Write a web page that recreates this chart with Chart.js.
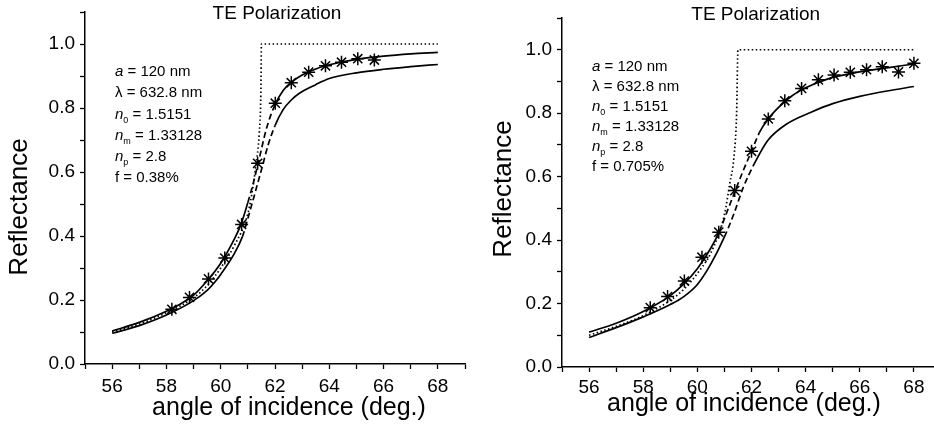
<!DOCTYPE html>
<html><head><meta charset="utf-8">
<script src="https://cdn.jsdelivr.net/npm/chart.js@4.4.0/dist/chart.umd.min.js"></script>
<style>
html,body{margin:0;padding:0;background:#fff;}
#wrap{position:relative;width:934px;height:437px;overflow:hidden;background:#fff;}
.box{position:absolute;top:0;height:437px;}
</style></head><body>
<div id="wrap">
<div class="box" style="left:0;width:467px"><canvas id="c1" width="467" height="437"></canvas></div>
<div class="box" style="left:467px;width:474px"><canvas id="c2" width="474" height="437"></canvas></div>
</div>
<script>
// ---------- DATA ----------
const xTickValues = [56, 58, 60, 62, 64, 66, 68];
const yTickValues = [0.0, 0.2, 0.4, 0.6, 0.8, 1.0];
const chartTitle = "TE Polarization";
const xTitle = "angle of incidence (deg.)";
const yTitle = "Reflectance";

// Left panel (f = 0.38%)
const L_starX = [58.2, 58.85, 59.55, 60.15, 60.77, 61.36, 62.01, 62.6, 63.24, 63.86, 64.45, 65.05, 65.66];
const L_starY = [0.171, 0.208, 0.266, 0.331, 0.436, 0.627, 0.815, 0.879, 0.912, 0.932, 0.943, 0.954, 0.950];
const L_upperX = [56, 57, 58, 58.5, 59, 59.5, 60, 60.5, 60.75, 61, 61.2, 61.4, 61.7, 62, 62.3, 62.6, 63, 63.5, 64, 65, 66, 67, 68];
const L_upperY = [0.103, 0.13, 0.165, 0.187, 0.215, 0.26, 0.315, 0.39, 0.437, 0.505, 0.565, 0.635, 0.74, 0.81, 0.855, 0.88, 0.903, 0.922, 0.935, 0.952, 0.962, 0.969, 0.974];
const L_lowerX = [56, 57, 58, 59, 59.5, 59.8, 60, 60.5, 60.8, 61, 61.2, 61.5, 61.75, 62, 62.3, 62.6, 62.9, 63.5, 64, 65, 66, 67, 68];
const L_lowerY = [0.096, 0.12, 0.153, 0.198, 0.23, 0.258, 0.28, 0.345, 0.398, 0.455, 0.515, 0.607, 0.685, 0.745, 0.795, 0.825, 0.846, 0.873, 0.892, 0.91, 0.921, 0.929, 0.936];
const L_bareX = [56, 57, 58, 59, 59.5, 60, 60.5, 61, 61.2, 61.3, 61.42, 61.48, 61.5, 68];
const L_bareY = [0.10, 0.125, 0.16, 0.207, 0.245, 0.30, 0.37, 0.47, 0.56, 0.625, 0.72, 0.85, 1.0, 1.0];
const L_params = ["120 nm", "632.8 nm", "1.5151", "1.33128", "2.8", "0.38%"];

// Right panel (f = 0.705%)
const R_starX = [58.26, 58.9, 59.52, 60.17, 60.79, 61.38, 62.0, 62.62, 63.23, 63.85, 64.47, 65.05, 65.65, 66.25, 66.83, 67.43, 68.0];
const R_starY = [0.187, 0.222, 0.271, 0.346, 0.425, 0.556, 0.680, 0.782, 0.839, 0.878, 0.905, 0.920, 0.929, 0.937, 0.946, 0.930, 0.957];
const R_upperX = [56, 57, 58, 59, 59.5, 60, 60.5, 60.8, 61.1, 61.4, 61.7, 62, 62.3, 62.6, 63, 63.5, 64, 64.5, 65, 66, 67, 68];
const R_upperY = [0.11, 0.138, 0.175, 0.225, 0.262, 0.31, 0.375, 0.425, 0.49, 0.556, 0.62, 0.68, 0.74, 0.78, 0.818, 0.855, 0.88, 0.898, 0.913, 0.93, 0.943, 0.955];
const R_lowerX = [56, 57, 58, 59, 59.5, 60, 60.5, 61, 61.35, 61.7, 62.1, 62.6, 63.3, 64.2, 65, 66, 67, 68];
const R_lowerY = [0.093, 0.124, 0.158, 0.197, 0.222, 0.26, 0.325, 0.41, 0.483, 0.567, 0.64, 0.714, 0.766, 0.803, 0.83, 0.853, 0.87, 0.884];
const R_bareX = [56, 57, 58, 59, 59.5, 59.75, 60, 60.5, 61, 61.2, 61.35, 61.45, 61.5, 68];
const R_bareY = [0.10, 0.128, 0.162, 0.21, 0.245, 0.268, 0.295, 0.36, 0.48, 0.58, 0.66, 0.8, 1.0, 1.0];
const R_params = ["120 nm", "632.8 nm", "1.5151", "1.33128", "2.8", "0.705%"];

// ---------- helpers ----------
const FONT = "'Liberation Sans', Arial, sans-serif";
const pts = (xs, ys) => xs.map((x, i) => ({x: x, y: ys[i]}));

function dashRange(lo, hi) {
  return ctx => (ctx.p0.parsed.x >= lo - 1e-9 && ctx.p1.parsed.x <= hi + 1e-9) ? [6, 3.5] : undefined;
}

function makeChart(id, cfg) {
  const annot = {
    id: 'annot',
    afterDraw(chart) {
      const c = chart.ctx;
      c.save();
      c.fillStyle = '#000';
      c.textBaseline = 'middle';
      c.textAlign = 'center';
      c.font = '19px ' + FONT;
      c.fillText(chartTitle, cfg.titleX, cfg.titleY);
      c.font = '25px ' + FONT;
      c.fillText(xTitle, cfg.xTitleX, cfg.xTitleY);
      c.save();
      c.translate(cfg.yTitleX, cfg.yTitleY);
      c.rotate(-Math.PI / 2);
      c.font = '26px ' + FONT;
      c.fillText(yTitle, 0, 0);
      c.restore();
      c.textAlign = 'left';
      const p = cfg.params;
      const lines = [
        [['i', 'a'], ['r', ' = ' + p[0]]],
        [['r', '\u03bb = ' + p[1]]],
        [['i', 'n'], ['s', '0'], ['r', ' = ' + p[2]]],
        [['i', 'n'], ['s', 'm'], ['r', ' = ' + p[3]]],
        [['i', 'n'], ['s', 'p'], ['r', ' = ' + p[4]]],
        [['r', 'f = ' + p[5]]]
      ];
      lines.forEach((ln, i) => {
        let x = cfg.annX;
        const y = cfg.annY + i * cfg.annDy;
        ln.forEach(([k, t]) => {
          let yy = y;
          if (k === 'i') c.font = 'italic 15px ' + FONT;
          else if (k === 's') { c.font = '9px ' + FONT; yy = y + 6; }
          else c.font = '15px ' + FONT;
          c.fillText(t, x, yy);
          x += c.measureText(t).width;
        });
      });
      c.restore();
    }
  };
  const noPad = s => { s.paddingLeft = 0; s.paddingRight = 0; s.paddingTop = 0; s.paddingBottom = 0; };
  return new Chart(document.getElementById(id), {
    type: 'scatter',
    data: {
      datasets: [
        {data: pts(cfg.bareX, cfg.bareY), showLine: true, pointRadius: 0, borderColor: '#000',
         borderWidth: 1.7, borderDash: [1.5, 2.5], cubicInterpolationMode: 'monotone'},
        {data: pts(cfg.lowerX, cfg.lowerY), showLine: true, pointRadius: 0, borderColor: '#000',
         borderWidth: 1.7, cubicInterpolationMode: 'monotone', segment: {borderDash: dashRange(cfg.lowDash[0], cfg.lowDash[1])}},
        {data: pts(cfg.upperX, cfg.upperY), showLine: true, pointRadius: 0, borderColor: '#000',
         borderWidth: 1.7, cubicInterpolationMode: 'monotone', segment: {borderDash: dashRange(cfg.upDash[0], cfg.upDash[1])}},
        {data: pts(cfg.starX, cfg.starY), showLine: false, pointStyle: 'star', pointRadius: 6.5,
         borderColor: '#000', backgroundColor: '#000', borderWidth: 1.5}
      ]
    },
    options: {
      responsive: false, animation: false,
      layout: {autoPadding: false, padding: {left: 0, right: cfg.padRight, top: cfg.padTop, bottom: 0}},
      plugins: {legend: {display: false}, tooltip: {enabled: false}, title: {display: false}},
      scales: {
        x: {
          type: 'linear', min: 55, max: 69,
          border: {color: '#000', width: 1.5},
          grid: {drawOnChartArea: false, drawTicks: true, tickLength: 5, color: '#000', tickWidth: 1.3},
          ticks: {stepSize: 1, autoSkip: false, maxRotation: 0, padding: cfg.xPad, color: '#000',
                  font: {family: FONT, size: 19},
                  callback: v => xTickValues.includes(v) ? String(v) : ''},
          afterFit: s => { s.height = cfg.xAxisH; noPad(s); }
        },
        y: {
          type: 'linear', min: 0, max: 1.1,
          border: {color: '#000', width: 1.5},
          grid: {drawOnChartArea: false, drawTicks: true, tickLength: 5, color: '#000', tickWidth: 1.3},
          ticks: {stepSize: 0.1, autoSkip: false, padding: 5, color: '#000',
                  font: {family: FONT, size: 19},
                  callback: v => yTickValues.some(t => Math.abs(t - v) < 1e-6) ? v.toFixed(1) : ''},
          afterFit: s => { s.width = cfg.yAxisW; noPad(s); }
        }
      }
    },
    plugins: [annot]
  });
}

makeChart('c1', {
  bareX: L_bareX, bareY: L_bareY, lowerX: L_lowerX, lowerY: L_lowerY, upperX: L_upperX, upperY: L_upperY,
  starX: L_starX, starY: L_starY, params: L_params,
  upDash: [61, 62], lowDash: [60.8, 62],
  padRight: 2, padTop: 12, xAxisH: 73, yAxisW: 85, xPad: 6,
  titleX: 277, titleY: 14, xTitleX: 289, xTitleY: 408, yTitleX: 20, yTitleY: 207,
  annX: 115, annY: 72, annDy: 21.2
});
makeChart('c2', {
  bareX: R_bareX, bareY: R_bareY, lowerX: R_lowerX, lowerY: R_lowerY, upperX: R_upperX, upperY: R_upperY,
  starX: R_starX, starY: R_starY, params: R_params,
  upDash: [60.8, 62.3], lowDash: [61, 62.1],
  padRight: 0, padTop: 18, xAxisH: 70, yAxisW: 95, xPad: 4,
  titleX: 755.7 - 467, titleY: 15, xTitleX: 744 - 467, xTitleY: 404, yTitleX: 504 - 467, yTitleY: 189,
  annX: 125, annY: 67, annDy: 20
});
</script>
</body></html>
